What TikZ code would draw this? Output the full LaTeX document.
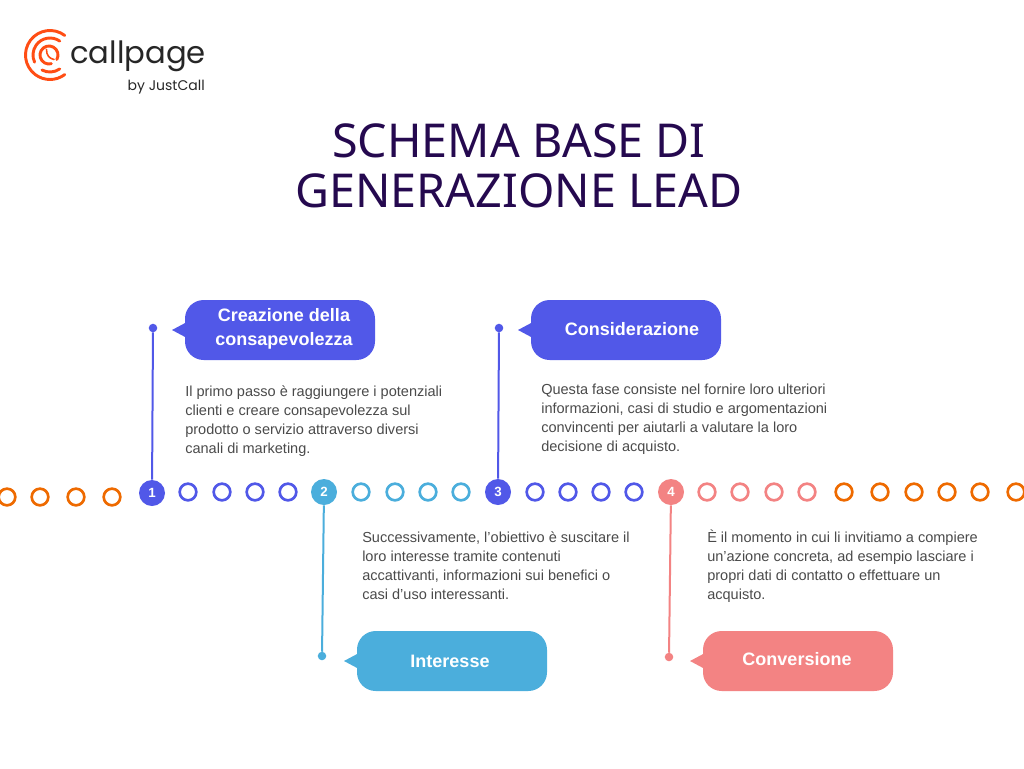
\documentclass[tikz,border=0pt]{standalone}
\usepackage{xcolor}
\usepackage{fontspec}
\setmainfont{Liberation Sans}
\newfontfamily\titlefont{Noto Sans}
\newfontfamily\logofont{Poppins}
\usetikzlibrary{positioning}
\definecolor{titleink}{HTML}{25094F}
\definecolor{bodyink}{HTML}{4A4A4A}
\definecolor{logoink}{HTML}{FF4D14}
\definecolor{ringorange}{HTML}{EE6A00}
\definecolor{stepblue}{HTML}{5158E8}
\definecolor{stepteal}{HTML}{4BAEDC}
\definecolor{steppink}{HTML}{F38383}

\begin{document}
\begin{tikzpicture}[x=0.75pt,y=-0.75pt]
\tikzset{ring/.style={circle,draw=#1,line width=2pt,inner sep=0pt,minimum size=12.5pt},
	badge/.style={circle,fill=#1,text=white,inner sep=0pt,minimum size=19.5pt,font=\fontsize{10}{10}\selectfont\bfseries},
	tipdot/.style={circle,fill=#1,inner sep=0pt,outer sep=0pt,minimum size=6.4pt},
	bubble/.style={rectangle,rounded corners=14pt,fill=#1,minimum width=142.5pt,minimum height=45pt,inner sep=0pt},
	bubbletext/.style={inner sep=0pt,align=center,text=white,font=\fontsize{13.5}{18}\selectfont\bfseries},
	para/.style={anchor=north west,inner sep=0pt,align=left,text=bodyink,font=\fontsize{10.9}{14.2}\selectfont},
	stem/.style={draw=#1,line width=1.5pt},
	logoarc/.style={draw=logoink,line width=2.2pt,line cap=round}}

\useasboundingbox (0,0) rectangle (1024,768);

% logo
\draw[logoarc] ([shift={(-53:24.5)}]50,55) arc (-53:-307:24.5);
\draw[logoarc] ([shift={(-55:17)}]50,55) arc (-55:-205:17);
\draw[logoarc] ([shift={(118:17)}]50,55) arc (118:55:17);
\draw[logoarc] ([shift={(30:9)}]49,55) arc (30:-285:9);
\draw[logoarc,line width=1.2pt] (46.5,49.5) .. controls (46.5,55) and (49,58.5) .. (54,59.5);
\node (logotext) [anchor=west,inner sep=0pt,font=\logofont\fontsize{23}{23}\selectfont,text=black!85] at (70,56) {callpage};
\node (logosub) [anchor=east,inner sep=0pt,font=\logofont\fontsize{10.5}{10.5}\selectfont,text=black!85] at (205,87) {by JustCall};

% title
\node (title) [inner sep=0pt,align=center,text=titleink,font=\titlefont\fontsize{35}{37.5}\selectfont] at (519,166) {SCHEMA BASE DI\\GENERAZIONE LEAD};

% rings before the first step
\foreach \xpos in {7,40,76,112}
	\node[ring=ringorange] at (\xpos,497) {};
\foreach \xpos in {188,222,255,288,535,568,601,634}
	\node[ring=stepblue] at (\xpos,492) {};
\foreach \xpos in {361,395,428,461}
	\node[ring=stepteal] at (\xpos,492) {};
\foreach \xpos in {707,740,774,807}
	\node[ring=steppink] at (\xpos,492) {};
\foreach \xpos in {844,880,914,947,980,1016}
	\node[ring=ringorange] at (\xpos,492) {};

% steps on the line
\node[badge=stepblue] (s1) at (152,493) {1};
\node[badge=stepteal] (s2) at (324,492) {2};
\node[badge=stepblue] (s3) at (498,492) {3};
\node[badge=steppink] (s4) at (671,492) {4};

% end dots of the stems
\node[tipdot=stepblue] (d1) at (153,328) {};
\node[tipdot=stepteal] (d2) at (322,656) {};
\node[tipdot=stepblue] (d3) at (499,328) {};
\node[tipdot=steppink] (d4) at (669,657) {};

\draw[stem=stepblue] (d1) -- (s1);
\draw[stem=stepteal] (d2) -- (s2);
\draw[stem=stepblue] (d3) -- (s3);
\draw[stem=steppink] (d4) -- (s4);

% bubbles
\node[bubble=stepblue] (b1) at (280,330) {};
\node[bubble=stepteal] (b2) at (452,661) {};
\node[bubble=stepblue] (b3) at (626,330) {};
\node[bubble=steppink] (b4) at (798,661) {};

\fill[stepblue] (172,330) -- (187,322) -- (187,338) -- cycle;
\fill[stepteal] (344,661) -- (359,653) -- (359,669) -- cycle;
\fill[stepblue] (518,330) -- (533,322) -- (533,338) -- cycle;
\fill[steppink] (690,661) -- (705,653) -- (705,669) -- cycle;

\node[bubbletext] (l1) at (284,329) {Creazione della\\consapevolezza};
\node[bubbletext] (l2) at (450,661) {Interesse};
\node[bubbletext] (l3) at (632,329) {Considerazione};
\node[bubbletext] (l4) at (797,659) {Conversione};

% texts
\node[para] (t1) at (185,386) {Il primo passo è raggiungere i potenziali\\clienti e creare consapevolezza sul\\prodotto o servizio attraverso diversi\\canali di marketing.};
\node[para] (t2) at (362,531.5) {Successivamente, l’obiettivo è suscitare il\\loro interesse tramite contenuti\\accattivanti, informazioni sui benefici o\\casi d’uso interessanti.};
\node[para] (t3) at (541,384) {Questa fase consiste nel fornire loro ulteriori\\informazioni, casi di studio e argomentazioni\\convincenti per aiutarli a valutare la loro\\decisione di acquisto.};
\node[para] (t4) at (707,530) {È il momento in cui li invitiamo a compiere\\un’azione concreta, ad esempio lasciare i\\propri dati di contatto o effettuare un\\acquisto.};
\end{tikzpicture}
\end{document}
